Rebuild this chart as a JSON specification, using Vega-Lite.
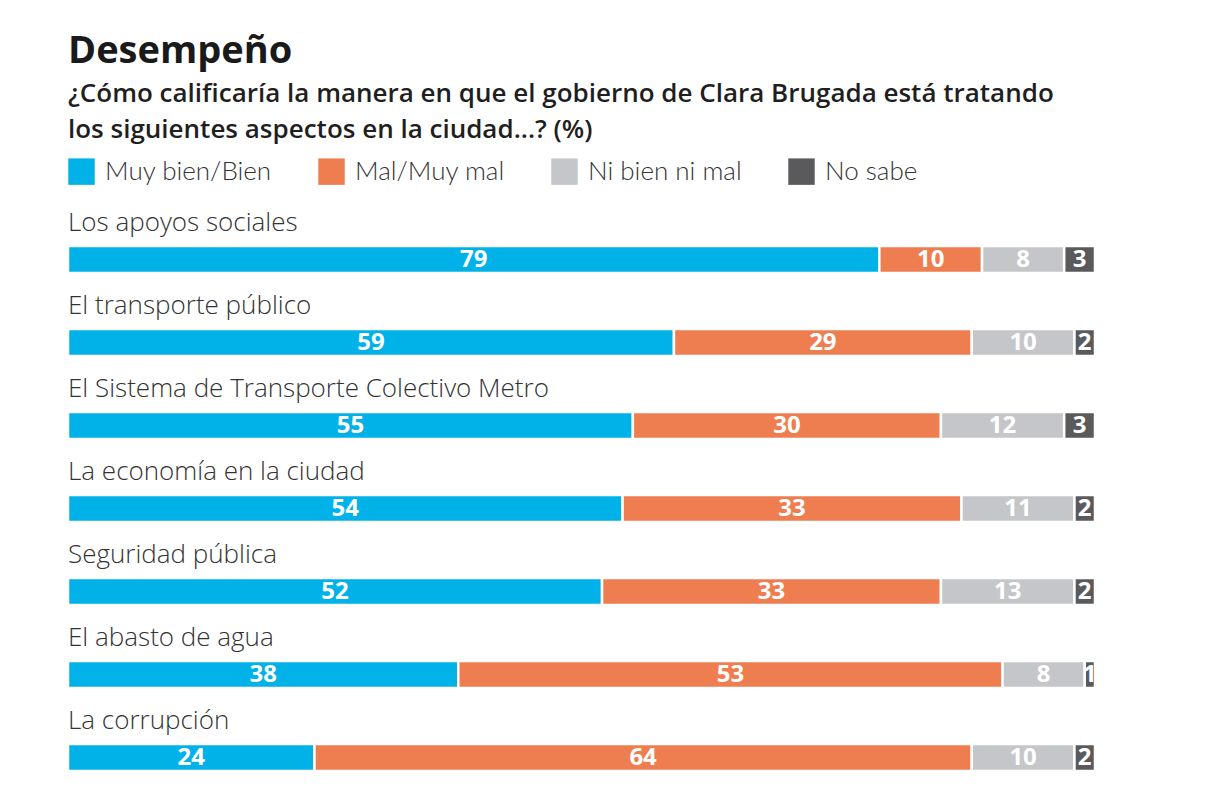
{
  "$schema": "https://vega.github.io/schema/vega-lite/v6.json",
  "autosize": "none",
  "width": 1027,
  "height": 581,
  "padding": {"left": 68, "top": 218, "right": 133, "bottom": 10},
  "background": "white",
  "title": {
    "text": "Desempeño",
    "subtitle": ["¿Cómo calificaría la manera en que el gobierno de Clara Brugada está tratando", "los siguientes aspectos en la ciudad...?  (%)"],
    "anchor": "start",
    "frame": "group",
    "font": "Open Sans",
    "fontSize": 38,
    "fontWeight": "bold",
    "color": "#1a1a1a",
    "subtitleFont": "Open Sans",
    "subtitleFontSize": 26,
    "subtitleFontWeight": 600,
    "subtitleColor": "#1f1f1f",
    "subtitleLineHeight": 36,
    "subtitlePadding": 10,
    "offset": 15
  },
  "config": {"view": {"stroke": null}},
  "data": {
    "values": [
      {"cat": "Los apoyos sociales", "row": 1, "resp": "Muy bien/Bien", "order": 1, "value": 79},
      {"cat": "Los apoyos sociales", "row": 1, "resp": "Mal/Muy mal", "order": 2, "value": 10},
      {"cat": "Los apoyos sociales", "row": 1, "resp": "Ni bien ni mal", "order": 3, "value": 8},
      {"cat": "Los apoyos sociales", "row": 1, "resp": "No sabe", "order": 4, "value": 3},
      {"cat": "El transporte público", "row": 2, "resp": "Muy bien/Bien", "order": 1, "value": 59},
      {"cat": "El transporte público", "row": 2, "resp": "Mal/Muy mal", "order": 2, "value": 29},
      {"cat": "El transporte público", "row": 2, "resp": "Ni bien ni mal", "order": 3, "value": 10},
      {"cat": "El transporte público", "row": 2, "resp": "No sabe", "order": 4, "value": 2},
      {"cat": "El Sistema de Transporte Colectivo Metro", "row": 3, "resp": "Muy bien/Bien", "order": 1, "value": 55},
      {"cat": "El Sistema de Transporte Colectivo Metro", "row": 3, "resp": "Mal/Muy mal", "order": 2, "value": 30},
      {"cat": "El Sistema de Transporte Colectivo Metro", "row": 3, "resp": "Ni bien ni mal", "order": 3, "value": 12},
      {"cat": "El Sistema de Transporte Colectivo Metro", "row": 3, "resp": "No sabe", "order": 4, "value": 3},
      {"cat": "La economía en la ciudad", "row": 4, "resp": "Muy bien/Bien", "order": 1, "value": 54},
      {"cat": "La economía en la ciudad", "row": 4, "resp": "Mal/Muy mal", "order": 2, "value": 33},
      {"cat": "La economía en la ciudad", "row": 4, "resp": "Ni bien ni mal", "order": 3, "value": 11},
      {"cat": "La economía en la ciudad", "row": 4, "resp": "No sabe", "order": 4, "value": 2},
      {"cat": "Seguridad pública", "row": 5, "resp": "Muy bien/Bien", "order": 1, "value": 52},
      {"cat": "Seguridad pública", "row": 5, "resp": "Mal/Muy mal", "order": 2, "value": 33},
      {"cat": "Seguridad pública", "row": 5, "resp": "Ni bien ni mal", "order": 3, "value": 13},
      {"cat": "Seguridad pública", "row": 5, "resp": "No sabe", "order": 4, "value": 2},
      {"cat": "El abasto de agua", "row": 6, "resp": "Muy bien/Bien", "order": 1, "value": 38},
      {"cat": "El abasto de agua", "row": 6, "resp": "Mal/Muy mal", "order": 2, "value": 53},
      {"cat": "El abasto de agua", "row": 6, "resp": "Ni bien ni mal", "order": 3, "value": 8},
      {"cat": "El abasto de agua", "row": 6, "resp": "No sabe", "order": 4, "value": 1},
      {"cat": "La corrupción", "row": 7, "resp": "Muy bien/Bien", "order": 1, "value": 24},
      {"cat": "La corrupción", "row": 7, "resp": "Mal/Muy mal", "order": 2, "value": 64},
      {"cat": "La corrupción", "row": 7, "resp": "Ni bien ni mal", "order": 3, "value": 10},
      {"cat": "La corrupción", "row": 7, "resp": "No sabe", "order": 4, "value": 2}
    ]
  },
  "transform": [
    {"stack": "value", "groupby": ["cat"], "sort": [{"field": "order"}], "as": ["v0", "v1"]},
    {"calculate": "(datum.v0 + datum.v1) / 2", "as": "mid"}
  ],
  "encoding": {
    "y": {
      "field": "cat",
      "type": "nominal",
      "sort": {"field": "row"},
      "scale": {"paddingInner": 0, "paddingOuter": 0},
      "axis": null
    }
  },
  "layer": [
    {
      "mark": {"type": "bar", "height": 27, "stroke": "white", "strokeWidth": 2.5},
      "encoding": {
        "x": {"field": "v0", "type": "quantitative", "scale": {"domain": [0, 100], "nice": false}, "axis": null},
        "x2": {"field": "v1"},
        "color": {
          "field": "resp",
          "type": "nominal",
          "sort": ["Muy bien/Bien", "Mal/Muy mal", "Ni bien ni mal", "No sabe"],
          "scale": {
            "domain": ["Muy bien/Bien", "Mal/Muy mal", "Ni bien ni mal", "No sabe"],
            "range": ["#00B2E8", "#EE7E4F", "#C5C6CA", "#5A5A5C"]
          },
          "legend": {
            "title": null,
            "orient": "none",
            "direction": "horizontal",
            "legendX": 0,
            "legendY": -60,
            "symbolType": "square",
            "symbolSize": 700,
            "symbolStrokeWidth": 0,
            "labelFont": "Lato",
            "labelFontSize": 26,
            "labelFontWeight": 300,
            "labelColor": "#333333",
            "labelOffset": 10,
            "columnPadding": 46,
            "labelLimit": 300
          }
        }
      }
    },
    {
      "mark": {"type": "text", "color": "white", "font": "Open Sans", "fontWeight": "bold", "fontSize": 24, "baseline": "middle", "align": "center"},
      "encoding": {
        "x": {"field": "mid", "type": "quantitative"},
        "text": {"field": "value", "type": "quantitative"}
      }
    },
    {
      "mark": {"type": "text", "align": "left", "baseline": "middle", "dy": -37, "font": "Open Sans", "fontSize": 26, "fontWeight": 300, "color": "#333333"},
      "transform": [{"filter": "datum.order === 1"}],
      "encoding": {
        "x": {"datum": 0, "type": "quantitative"},
        "text": {"field": "cat", "type": "nominal"}
      }
    }
  ]
}
